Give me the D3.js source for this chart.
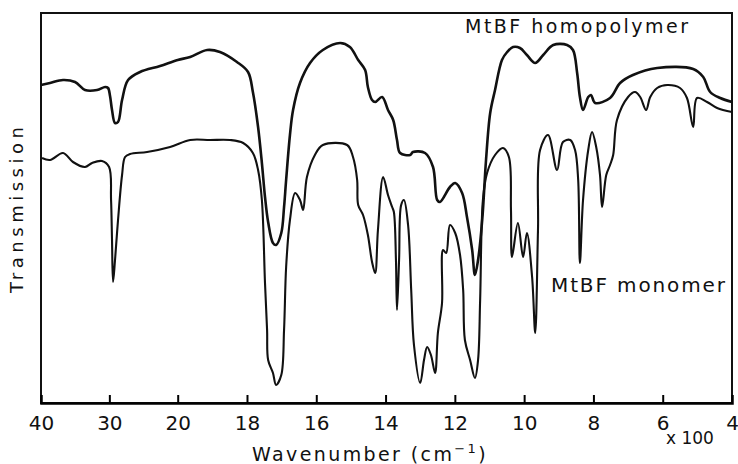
<!DOCTYPE html>
<html>
<head>
<meta charset="utf-8">
<script src="https://cdn.jsdelivr.net/npm/d3@7"></script>
<style>
  body { margin: 0; background: #fff; }
  svg text { font-family: "DejaVu Sans", sans-serif; fill: #111; }
</style>
</head>
<body>
<div id="chart"></div>
<script>
// wavenumber (cm-1), transmission (arbitrary %)
var homopolymer = [
  [4000,79.5],[3868,80],[3678,80.75],[3502,80.25],[3356,78.25],[3180,78.25],[3063,79],[3019,78.75],
  [2990,76.75],[2961,73.25],[2917,70],[2873,70.25],[2814,75.75],[2726,80.75],[2551,82.75],[2258,84.25],
  [2000,85.75],[1964,86.5],[1915,88.25],[1878,87.75],[1829,85.25],[1797,82.75],[1783,77.75],[1768,69],
  [1757,60],[1748,51.5],[1739,45.25],[1725,40],[1716,39.5],[1701,42.5],[1693,49],[1687,55.75],
  [1676,67],[1667,73.25],[1647,80],[1618,85],[1581,88.25],[1531,90],[1503,89],[1479,85.75],
  [1459,83.25],[1451,79],[1439,75.75],[1430,75.25],[1410,76.5],[1393,73.25],[1378,70.75],[1367,65.75],
  [1358,62.5],[1329,62],[1321,62.75],[1286,62.5],[1263,59],[1251,50.75],[1243,50.25],[1214,54],
  [1199,55],[1179,52.5],[1165,46.5],[1150,38.25],[1142,32],[1133,35.75],[1121,45.75],[1110,60.75],
  [1098,72.5],[1084,78.25],[1064,85.75],[1049,87.75],[1032,89],[1012,88.75],[992,87],[968,85],
  [945,87],[916,89.5],[876,89.5],[859,88.25],[847,82.5],[839,76.5],[830,73.25],[815,76.5],
  [807,77],[795,75],[752,76.25],[723,80],[686,82],[616,83.75],[512,83.5],[483,81.5],
  [463,77.75],[434,76.25],[400,75.25]
];

var monomer = [
  [3985,61.25],[3868,60.75],[3678,62.5],[3532,60.25],[3356,59],[3253,60],[3107,60.5],[3004,59],
  [2975,50.75],[2961,40.75],[2946,30.25],[2917,35.75],[2873,45.75],[2814,57],[2770,61.5],[2697,62.25],
  [2448,62.75],[2111,64],[1964,65.75],[1907,65.75],[1849,65.75],[1811,65],[1783,62.5],[1768,58.25],
  [1757,50.75],[1748,30],[1742,18.25],[1739,10.75],[1725,7.5],[1716,4.5],[1701,7],[1693,18.25],
  [1687,34],[1676,45.75],[1661,52.5],[1647,50.75],[1638,48.25],[1627,56.5],[1604,62],[1581,64.5],
  [1511,64.5],[1494,61.5],[1482,55.75],[1479,49.5],[1465,47],[1451,42],[1439,35.25],[1430,32.5],
  [1422,43.25],[1407,56.5],[1393,52],[1381,49],[1376,47.75],[1370,35.75],[1367,23.25],[1361,35.75],
  [1355,49.5],[1347,50.75],[1335,44.5],[1326,28.25],[1318,14.5],[1300,5],[1289,10.75],[1280,14],
  [1269,12],[1257,7.5],[1249,17.5],[1237,25],[1234,38.25],[1225,37.5],[1214,44.5],[1199,42.5],
  [1185,37],[1176,28.25],[1171,15.75],[1156,10.75],[1142,6.25],[1133,10.75],[1127,25.75],[1119,50.75],
  [1107,57.5],[1084,62],[1061,63.75],[1044,61.5],[1038,48.25],[1035,36.5],[1018,45],[1003,36.5],
  [992,42.5],[977,31.5],[968,17.5],[960,43.25],[954,63.25],[931,67],[905,58.25],[888,65.25],
  [867,65.75],[853,63.25],[844,55.75],[839,35],[830,50.75],[815,63.25],[804,67.75],[792,64],
  [781,57],[775,49],[763,57],[752,59.5],[743,62],[732,70.75],[700,76.5],[680,77.75],
  [665,76.5],[648,73.25],[636,76.5],[616,78.75],[587,79.5],[550,78.75],[530,76.25],[512,69],
  [501,76.25],[472,75.25],[443,73.75],[400,72.75]
];

var tickValues = [4000, 3000, 2000, 1800, 1600, 1400, 1200, 1000, 800, 600, 400];
var seriesLabels = ["MtBF homopolymer", "MtBF monomer"];

var width = 738, height = 464;
var margin = {top: 13, right: 6, bottom: 61, left: 41};
var plotW = width - margin.left - margin.right,
    plotH = height - margin.top - margin.bottom;

var svg = d3.select("#chart").append("svg")
    .attr("width", width)
    .attr("height", height);

var g = svg.append("g")
    .attr("transform", "translate(" + margin.left + "," + margin.top + ")");

// scale changes at 2000 cm-1, like the spectrometer chart paper
var x = d3.scaleLinear()
    .domain([4000, 2000, 400])
    .range([0, 136.7, plotW]);

var y = d3.scaleLinear()
    .domain([0, 97.5])
    .range([plotH, 0]);

var line = d3.line()
    .x(function(d) { return x(d[0]); })
    .y(function(d) { return y(d[1]); })
    .curve(d3.curveCatmullRom.alpha(0.5));

g.append("path")
    .datum(homopolymer)
    .attr("d", line)
    .style("fill", "none")
    .style("stroke", "#111")
    .style("stroke-width", 2.6)
    .style("stroke-linejoin", "round");

g.append("path")
    .datum(monomer)
    .attr("d", line)
    .style("fill", "none")
    .style("stroke", "#111")
    .style("stroke-width", 2.1)
    .style("stroke-linejoin", "round");

// frame
g.append("rect")
    .attr("width", plotW)
    .attr("height", plotH)
    .style("fill", "none")
    .style("stroke", "#111")
    .style("stroke-width", 2);

var xAxis = d3.axisBottom(x)
    .tickValues(tickValues)
    .tickSize(-8)
    .tickFormat(function(d) { return d / 100; });

var ax = g.append("g")
    .attr("transform", "translate(0," + plotH + ")")
    .call(xAxis);

ax.select(".domain").attr("stroke-width", 2.5);
ax.selectAll(".tick line")
    .attr("stroke-width", 2)
    .style("display", function(d) { return (d === 4000 || d === 400) ? "none" : null; });
ax.selectAll(".tick text")
    .attr("y", 27)
    .attr("dy", 0)
    .style("font-size", "20px")
    .style("font-family", "DejaVu Sans, sans-serif")
    .style("fill", "#111");

// labels
svg.append("text")
    .attr("x", 465)
    .attr("y", 33)
    .attr("textLength", 223)
    .attr("lengthAdjust", "spacing")
    .style("font-size", "19px")
    .text(seriesLabels[0]);

svg.append("text")
    .attr("x", 551)
    .attr("y", 292)
    .attr("textLength", 174)
    .attr("lengthAdjust", "spacing")
    .style("font-size", "20px")
    .text(seriesLabels[1]);

svg.append("text")
    .attr("x", 666)
    .attr("y", 444)
    .style("font-size", "17px")
    .text("x 100");

var xt = svg.append("text")
    .attr("x", 252)
    .attr("y", 461)
    .style("font-size", "19px")
    .style("letter-spacing", "2.4px");
xt.append("tspan").text("Wavenumber (cm");
xt.append("tspan").attr("dy", -8).style("font-size", "13px").text("\u22121");
xt.append("tspan").attr("dy", 8).text(")");

svg.append("text")
    .attr("transform", "translate(23,293) rotate(-90)")
    .attr("textLength", 166)
    .attr("lengthAdjust", "spacing")
    .style("font-size", "18px")
    .text("Transmission");
</script>
</body>
</html>
